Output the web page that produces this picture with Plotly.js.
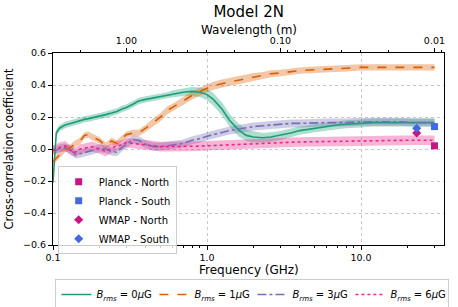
<!DOCTYPE html>
<html>
<head>
<meta charset="utf-8">
<script src="https://cdn.plot.ly/plotly-3.0.1.min.js"></script>
<style>html,body{margin:0;padding:0;background:#fff;}#chart{width:458px;height:307px;}</style>
</head>
<body>
<div id="chart"></div>
<script>
// Frequency grid (GHz)
const freq = [0.1, 0.105, 0.11, 0.12, 0.13, 0.14, 0.15, 0.16, 0.17, 0.18, 0.2, 0.22, 0.24, 0.26, 0.28, 0.3, 0.33, 0.36, 0.4, 0.45, 0.5, 0.55, 0.6, 0.7, 0.8, 0.9, 1.0, 1.1, 1.25, 1.4, 1.6, 1.8, 2.0, 2.3, 2.6, 3.0, 3.5, 4, 5, 6, 7, 8, 10, 12, 15, 18, 22, 26, 30];

const b0 = [-0.21, 0.10, 0.13, 0.15, 0.16, 0.17, 0.18, 0.185, 0.19, 0.195, 0.205, 0.215, 0.225, 0.235, 0.25, 0.26, 0.28, 0.30, 0.31, 0.32, 0.325, 0.335, 0.345, 0.355, 0.36, 0.355, 0.34, 0.31, 0.25, 0.18, 0.12, 0.085, 0.075, 0.07, 0.075, 0.085, 0.10, 0.115, 0.13, 0.14, 0.15, 0.155, 0.16, 0.165, 0.165, 0.165, 0.165, 0.165, 0.165];
const b0err = [0.02, 0.02, 0.02, 0.02, 0.02, 0.02, 0.02, 0.02, 0.02, 0.02, 0.02, 0.02, 0.02, 0.02, 0.02, 0.02, 0.02, 0.02, 0.02, 0.02, 0.02, 0.02, 0.022, 0.025, 0.028, 0.03, 0.035, 0.04, 0.04, 0.04, 0.04, 0.035, 0.035, 0.03, 0.03, 0.028, 0.028, 0.026, 0.025, 0.025, 0.025, 0.025, 0.025, 0.025, 0.025, 0.025, 0.025, 0.025, 0.025];

const b1 = [-0.08, -0.06, -0.035, 0.0, 0.01, 0.035, 0.05, 0.085, 0.09, 0.075, 0.055, 0.02, 0.05, 0.035, 0.065, 0.09, 0.10, 0.10, 0.13, 0.17, 0.20, 0.24, 0.26, 0.30, 0.335, 0.36, 0.38, 0.395, 0.41, 0.42, 0.43, 0.44, 0.45, 0.46, 0.47, 0.475, 0.485, 0.49, 0.495, 0.50, 0.505, 0.505, 0.51, 0.51, 0.51, 0.51, 0.51, 0.51, 0.51];
const b1err = [0.02, 0.02, 0.02, 0.02, 0.02, 0.02, 0.02, 0.02, 0.02, 0.02, 0.02, 0.02, 0.02, 0.02, 0.02, 0.02, 0.02, 0.02, 0.022, 0.024, 0.025, 0.025, 0.025, 0.025, 0.025, 0.025, 0.025, 0.025, 0.025, 0.025, 0.025, 0.025, 0.025, 0.022, 0.022, 0.02, 0.02, 0.02, 0.02, 0.02, 0.02, 0.02, 0.02, 0.02, 0.02, 0.02, 0.02, 0.02, 0.02];

const b3 = [0.0, -0.01, 0.005, 0.01, -0.005, -0.035, -0.03, -0.02, -0.015, -0.01, 0.005, 0.0, -0.015, -0.02, 0.01, 0.03, 0.06, 0.055, 0.03, 0.015, 0.015, 0.02, 0.025, 0.035, 0.055, 0.065, 0.08, 0.09, 0.105, 0.115, 0.125, 0.135, 0.14, 0.145, 0.15, 0.155, 0.16, 0.16, 0.165, 0.165, 0.165, 0.165, 0.17, 0.17, 0.17, 0.17, 0.165, 0.165, 0.165];
const b3err = [0.025, 0.025, 0.025, 0.025, 0.025, 0.025, 0.025, 0.025, 0.025, 0.025, 0.025, 0.025, 0.025, 0.025, 0.025, 0.025, 0.025, 0.025, 0.025, 0.025, 0.025, 0.025, 0.025, 0.025, 0.025, 0.025, 0.025, 0.025, 0.025, 0.025, 0.025, 0.025, 0.025, 0.025, 0.025, 0.025, 0.025, 0.025, 0.025, 0.025, 0.025, 0.025, 0.025, 0.025, 0.025, 0.025, 0.025, 0.025, 0.025];

const b6 = [-0.01, 0.0, 0.01, 0.02, -0.01, -0.02, 0.0, 0.005, 0.01, 0.015, 0.0, -0.015, 0.005, 0.02, 0.025, 0.04, 0.035, 0.03, 0.025, 0.02, 0.015, 0.015, 0.015, 0.015, 0.015, 0.018, 0.02, 0.022, 0.025, 0.027, 0.03, 0.032, 0.034, 0.036, 0.038, 0.04, 0.042, 0.044, 0.046, 0.048, 0.05, 0.05, 0.052, 0.053, 0.054, 0.054, 0.055, 0.055, 0.055];
const b6err = [0.03, 0.03, 0.03, 0.03, 0.03, 0.03, 0.03, 0.03, 0.03, 0.03, 0.03, 0.03, 0.03, 0.03, 0.03, 0.03, 0.03, 0.03, 0.03, 0.03, 0.03, 0.03, 0.03, 0.03, 0.03, 0.03, 0.03, 0.03, 0.03, 0.03, 0.03, 0.03, 0.03, 0.03, 0.03, 0.03, 0.03, 0.03, 0.03, 0.03, 0.03, 0.03, 0.03, 0.03, 0.03, 0.03, 0.03, 0.03, 0.03];

const seriesNames = ['<i>B<sub>rms</sub></i> = 0<i>μ</i>G', '<i>B<sub>rms</sub></i> = 1<i>μ</i>G', '<i>B<sub>rms</sub></i> = 3<i>μ</i>G', '<i>B<sub>rms</sub></i> = 6<i>μ</i>G'];

// Observational points
const obsNames = ['Planck - North', 'Planck - South', 'WMAP - North', 'WMAP - South'];
const obsFreq = [30, 30, 23, 23];
const obsVal = [0.02, 0.14, 0.10, 0.13];
const obsErr = [0.015, 0.015, 0.015, 0.012];

// Top axis (wavelength, m)
const wlTickVals = [1.0, 0.1, 0.01];
const wlTickText = ['1.00', '0.10', '0.01'];
const wlMinor = [2, 3, 0.9, 0.8, 0.7, 0.6, 0.5, 0.4, 0.3, 0.2, 0.09, 0.08, 0.07, 0.06, 0.05, 0.04, 0.03, 0.02, 0.009];
const C = 0.299792458; // m*GHz

const colors = ['#1b9e77', '#d95f02', '#7570b3', '#e7298a'];
const fills = ['rgba(27,158,119,0.35)', 'rgba(217,95,2,0.35)', 'rgba(117,112,179,0.35)', 'rgba(231,41,138,0.35)'];
const dashes = ['solid', 'dash', 'dashdot', 'dot'];
const obsColors = ['#c71585', '#4169e1', '#c71585', '#4169e1'];
const obsSymbols = ['square', 'square', 'diamond', 'diamond'];

const vals = [b0, b1, b3, b6];
const errs = [b0err, b1err, b3err, b6err];

const traces = [];
vals.forEach((v, i) => {
  const up = v.map((y, k) => y + errs[i][k]);
  const lo = v.map((y, k) => y - errs[i][k]);
  traces.push({x: freq, y: up, mode: 'lines', line: {width: 0, color: fills[i]}, showlegend: false, hoverinfo: 'skip'});
  traces.push({x: freq, y: lo, mode: 'lines', line: {width: 0, color: fills[i]}, fill: 'tonexty', fillcolor: fills[i], showlegend: false, hoverinfo: 'skip'});
});
vals.forEach((v, i) => {
  traces.push({x: freq, y: v, mode: 'lines', name: seriesNames[i], line: {color: colors[i], width: 1.6, dash: dashes[i]}, legend: 'legend'});
});
obsNames.forEach((n, i) => {
  traces.push({x: [obsFreq[i]], y: [obsVal[i]], mode: 'markers', name: n,
    marker: {symbol: obsSymbols[i], color: obsColors[i], size: 7},
    error_y: {type: 'data', array: [obsErr[i]], color: obsColors[i], thickness: 1.5, width: 0},
    legend: 'legend2'});
});
// invisible trace for top axis
traces.push({x: [0.1, 30], y: [null, null], xaxis: 'x2', mode: 'lines', showlegend: false, hoverinfo: 'skip'});

const xr = [-1, 1.539];
const font = {family: 'DejaVu Sans, sans-serif', color: '#000'};

const layout = {
  width: 458, height: 307,
  margin: {l: 53, r: 14, t: 53, b: 62, autoexpand: false},
  paper_bgcolor: '#fff', plot_bgcolor: '#fff',
  font: Object.assign({size: 10}, font),
  title: {text: 'Model 2N', font: {size: 15, family: font.family, color: '#000'}, x: 0.543, xanchor: 'center', y: 1 - 12 / 307, yanchor: 'middle'},
  xaxis: {
    type: 'log', range: xr,
    tickvals: [0.1, 1, 10], ticktext: ['0.1', '1.0', '10.0'],
    ticks: 'outside', ticklen: 4, tickwidth: 1, tickcolor: '#000',
    showline: true, linecolor: '#000', linewidth: 1,
    showgrid: true, gridcolor: '#c8c8c8', griddash: 'dot', gridwidth: 1,
    zeroline: false,
    tickfont: {size: 9.5},
    minor: {tickvals: [0.2,0.3,0.4,0.5,0.6,0.7,0.8,0.9,2,3,4,5,6,7,8,9,20,30], ticks: 'outside', ticklen: 2, tickcolor: '#000', showgrid: false}
  },
  xaxis2: {
    type: 'log', range: xr, overlaying: 'x', side: 'top',
    tickvals: wlTickVals.map(w => C / w), ticktext: wlTickText,
    ticks: 'outside', ticklen: 4, tickwidth: 1, tickcolor: '#000',
    showline: true, linecolor: '#000', linewidth: 1,
    showgrid: false, zeroline: false,
    tickfont: {size: 9.5},
    minor: {tickvals: wlMinor.map(w => C / w), ticks: 'outside', ticklen: 2, tickcolor: '#000', showgrid: false}
  },
  yaxis: {
    range: [-0.6, 0.6], tickvals: [-0.6, -0.4, -0.2, 0, 0.2, 0.4, 0.6], tickformat: '.1f',
    ticks: 'outside', ticklen: 4, tickwidth: 1, tickcolor: '#000',
    showline: true, mirror: true, linecolor: '#000', linewidth: 1,
    showgrid: true, gridcolor: '#c8c8c8', griddash: 'dot', gridwidth: 1,
    zeroline: false,
    tickfont: {size: 9.5},
    title: {text: 'Cross-correlation coefficient', font: {size: 11.5}, standoff: 6}
  },
  annotations: [
    {text: 'Wavelength (m)', xref: 'paper', yref: 'paper', x: 0.5, y: 1 + 23.5 / 192, xanchor: 'center', yanchor: 'middle', showarrow: false, font: {size: 12}},
    {text: 'Frequency (GHz)', xref: 'paper', yref: 'paper', x: 0.5, y: -25 / 192, xanchor: 'center', yanchor: 'middle', showarrow: false, font: {size: 12}}
  ],
  legend: {
    orientation: 'h', x: 0.51, xanchor: 'center', y: -34 / 192, yanchor: 'top',
    bordercolor: '#cccccc', borderwidth: 1, bgcolor: '#fff', traceorder: 'normal',
    font: {size: 10}, entrywidth: 53, itemwidth: 30
  },
  legend2: {
    x: 0.012, xanchor: 'left', y: 0.41, yanchor: 'top', traceorder: 'normal',
    bordercolor: '#cccccc', borderwidth: 1, bgcolor: 'rgba(255,255,255,0.8)',
    font: {size: 10}, itemwidth: 30
  },
  showlegend: true
};

Plotly.newPlot('chart', traces, layout, {displayModeBar: false, staticPlot: true});
</script>
</body>
</html>
